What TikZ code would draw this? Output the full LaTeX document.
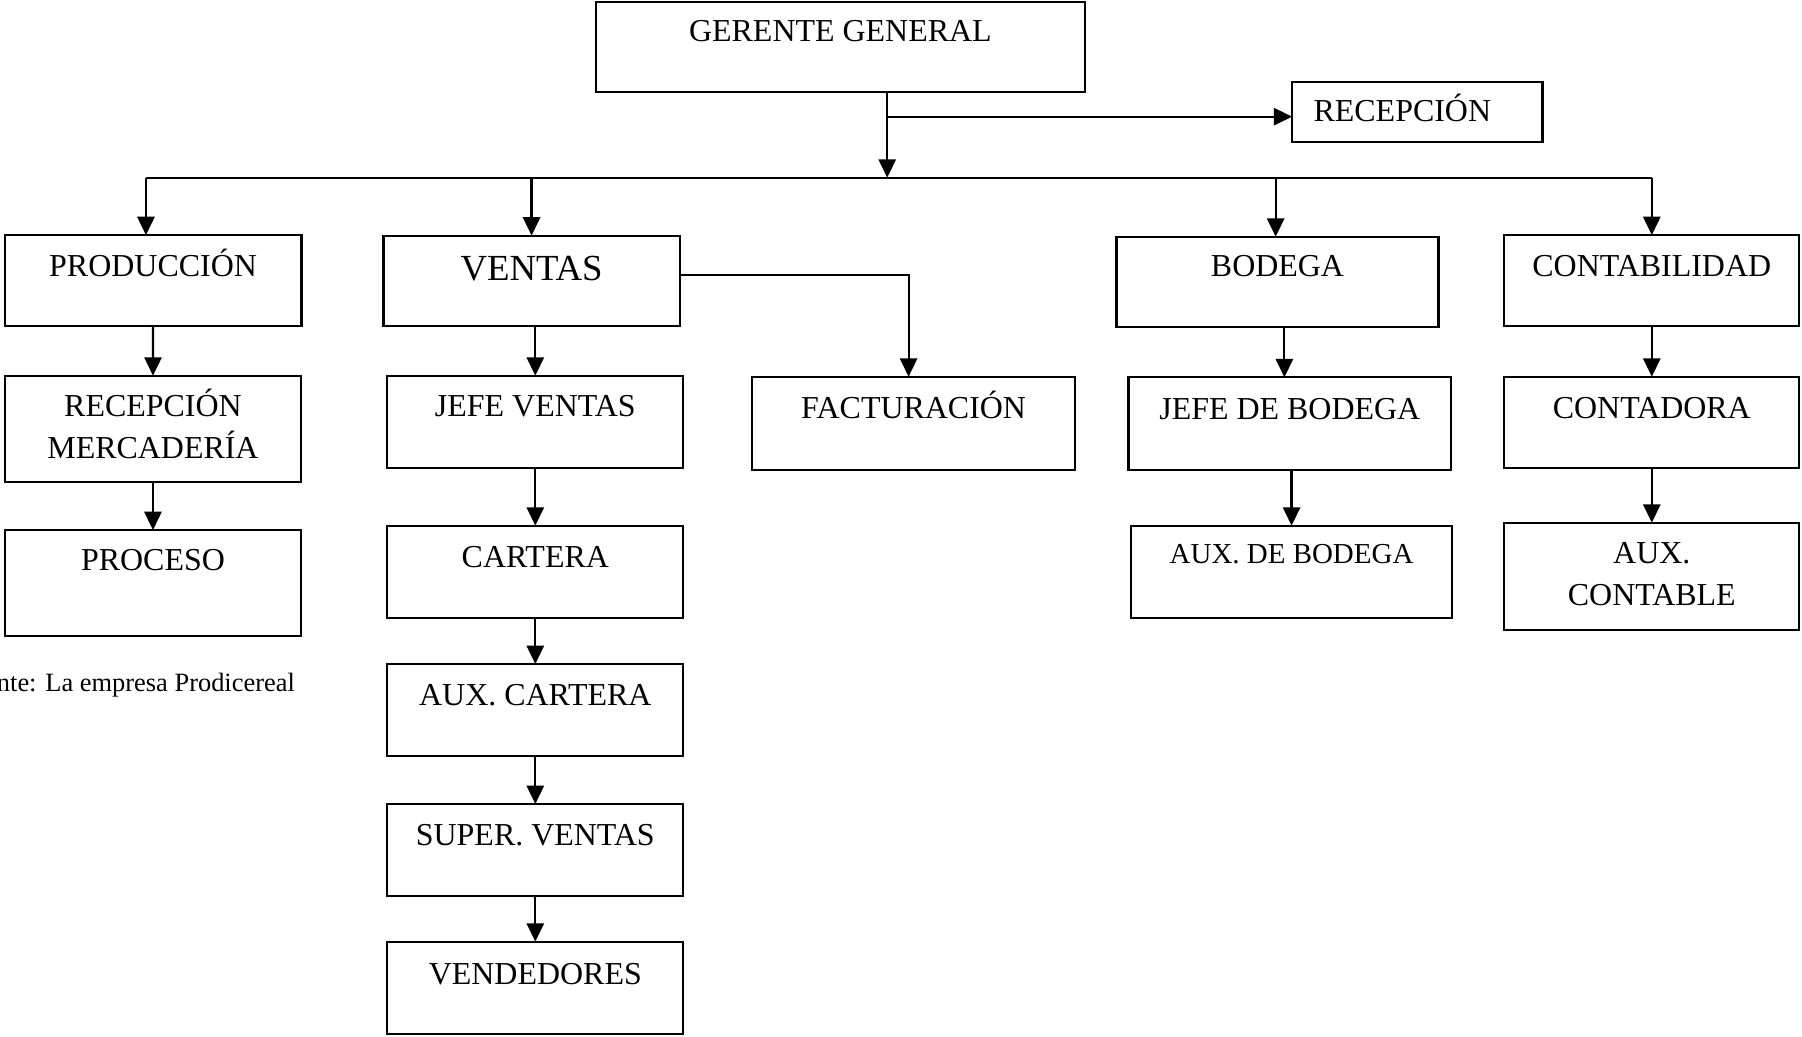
\documentclass[tikz,border=0pt]{standalone}
\usepackage{fontspec}
\setmainfont{Liberation Serif}
\usetikzlibrary{arrows.meta}

\tikzset{
  box/.style={draw, line width=0.95pt, rectangle, inner sep=0pt, outer sep=0pt},
  ln/.style={line width=0.95pt},
  arr/.style={line width=0.95pt, -{Triangle[length=8pt,width=7.5pt]}},
  txt/.style={font=\fontsize{13.9}{18.3}\selectfont, inner sep=0pt, anchor=base},
  big/.style={font=\fontsize{16}{20}\selectfont, inner sep=0pt, anchor=base},
  small/.style={font=\fontsize{12.6}{16}\selectfont, inner sep=0pt, anchor=base},
  two/.style={txt, text width=150pt, align=center},
}

\begin{document}
\begin{tikzpicture}[x=0.5pt, y=-0.5pt]
  \useasboundingbox (0,0) rectangle (1568,901.5);

  % top level
  \node[box, minimum width=212.75pt, minimum height=39.15pt,
        label={[txt, yshift=-17.4pt]north:GERENTE GENERAL}] (gg) at (731.25,40.65) {};
  \node[box, minimum width=108.9pt, minimum height=26.35pt,
        label={[txt, anchor=base west, xshift=9.1pt, yshift=-17.45pt]north west:RECEPCIÓN}] (rec) at (1233.3,97.45) {};

  % departments
  \node[box, minimum width=129.15pt, minimum height=39.45pt,
        label={[txt, yshift=-17.85pt]north:PRODUCCIÓN}] (prod) at (133.2,244) {};
  \node[box, minimum width=128.85pt, minimum height=39.2pt,
        label={[big, yshift=-19.35pt]north:VENTAS}] (ventas) at (462.55,244.2) {};
  \node[box, minimum width=140.1pt, minimum height=39.15pt,
        label={[txt, yshift=-17.4pt]north:BODEGA}] (bod) at (1111.6,245.15) {};
  \node[box, minimum width=128.3pt, minimum height=39.45pt,
        label={[txt, yshift=-17.85pt]north:CONTABILIDAD}] (cont) at (1437.3,244) {};

  % production branch
  \node[box, minimum width=129pt, minimum height=46.1pt,
        label={[two, yshift=-17.55pt]north:RECEPCIÓN\\MERCADERÍA}] (recm) at (133.1,373) {};
  \node[box, minimum width=129pt, minimum height=45.95pt,
        label={[txt, yshift=-17.7pt]north:PROCESO}] (proc) at (133.1,507.15) {};

  % sales branch
  \node[box, minimum width=128.8pt, minimum height=40.05pt,
        label={[txt, yshift=-17.55pt]north:JEFE VENTAS}] (jv) at (465.8,366.95) {};
  \node[box, minimum width=128.8pt, minimum height=40.05pt,
        label={[txt, yshift=-18.3pt]north:CARTERA}] (cart) at (465.8,497.45) {};
  \node[box, minimum width=128.8pt, minimum height=40pt,
        label={[txt, yshift=-17.85pt]north:AUX. CARTERA}] (auxc) at (465.8,617.8) {};
  \node[box, minimum width=128.8pt, minimum height=40.05pt,
        label={[txt, yshift=-17.85pt]north:SUPER. VENTAS}] (sup) at (465.8,739.65) {};
  \node[box, minimum width=128.8pt, minimum height=40.2pt,
        label={[txt, yshift=-18.45pt]north:VENDEDORES}] (vend) at (465.8,859.6) {};
  \node[box, minimum width=140.55pt, minimum height=40.6pt,
        label={[txt, yshift=-18.1pt]north:FACTURACIÓN}] (fact) at (795,368.4) {};

  % warehouse branch
  \node[box, minimum width=140.3pt, minimum height=40.35pt,
        label={[txt, yshift=-18.3pt]north:JEFE DE BODEGA}] (jb) at (1122.3,368.65) {};
  \node[box, minimum width=139.85pt, minimum height=40.05pt,
        label={[small, yshift=-16.4pt]north:AUX. DE BODEGA}] (ab) at (1123.85,497.45) {};

  % accounting branch
  \node[box, minimum width=128.3pt, minimum height=39.6pt,
        label={[txt, yshift=-18.1pt]north:CONTADORA}] (ctd) at (1437.3,367.4) {};
  \node[box, minimum width=128.3pt, minimum height=46.7pt,
        label={[two, yshift=-17.7pt]north:AUX.\\CONTABLE}] (auxct) at (1437.3,501.5) {};

  % source note
  \node[font=\fontsize{11.5}{14}\selectfont, inner sep=0pt, anchor=base east] (src) at (257,601.5) {nte: La empresa Prodicereal};

  % connectors from the general manager
  \coordinate (hub) at (772,154.6);
  \coordinate (tee) at (772,101.5);
  \coordinate (busL) at (127,154.6);
  \draw[arr] (gg.south -| hub) -- (hub);
  \draw[arr] (tee) -- (rec.west |- tee);
  \draw[ln] (busL) -- (cont.north |- hub);
  \draw[arr] (busL) -- (busL |- prod.north);
  \draw[arr] (ventas.north |- hub) -- (ventas.north);
  \draw[arr] ([xshift=-0.8pt]bod.north |- hub) -- ([xshift=-0.8pt]bod.north);
  \draw[arr] (cont.north |- hub) -- (cont.north);

  % department chains
  \draw[arr] (prod.south) -- (recm.north);
  \draw[arr] (recm.south) -- (proc.north);
  \draw[arr] (jv.north |- ventas.south) -- (jv.north);
  \draw[arr] ([yshift=2.5pt]ventas.east) -| ([xshift=-2.2pt]fact.north);
  \draw[arr] (jv.south) -- (cart.north);
  \draw[arr] (cart.south) -- (auxc.north);
  \draw[arr] (auxc.south) -- (sup.north);
  \draw[arr] (sup.south) -- (vend.north);
  \draw[arr] ([xshift=3pt]bod.south) -- ([xshift=3pt]bod.south |- jb.north);
  \draw[arr] (ab.north |- jb.south) -- (ab.north);
  \draw[arr] (cont.south) -- (ctd.north);
  \draw[arr] (ctd.south) -- (auxct.north);
\end{tikzpicture}
\end{document}
